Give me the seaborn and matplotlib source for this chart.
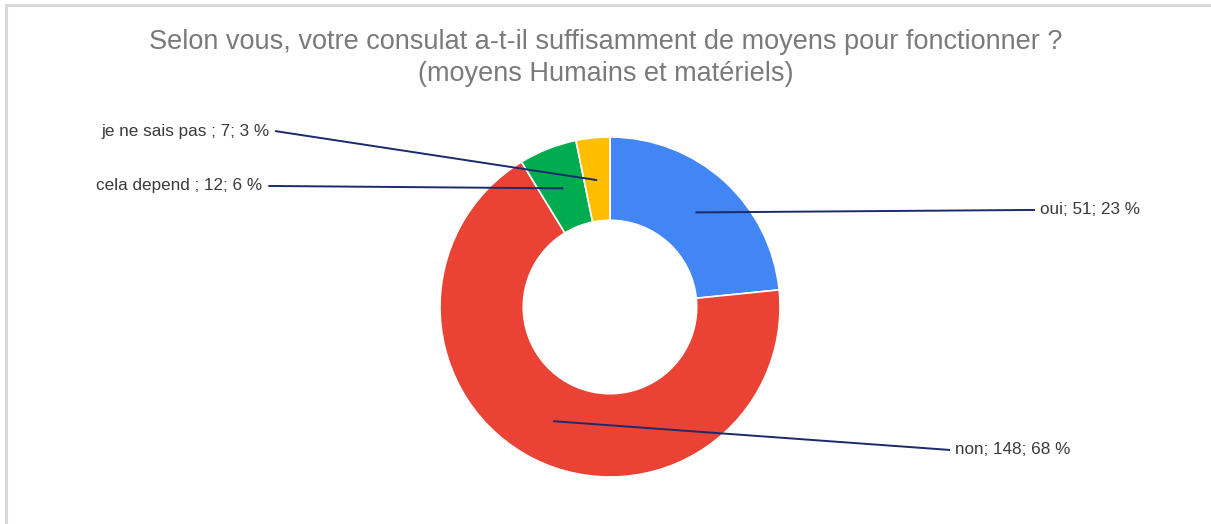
import numpy as np
import matplotlib
matplotlib.use("Agg")
import matplotlib.pyplot as plt
from matplotlib.patches import Rectangle
import seaborn as sns

# Data
categories = ["oui", "non", "cela depend ", "je ne sais pas "]
values = [51, 148, 12, 7]
colors = ["#4285F4", "#EA4335", "#00AC4F", "#FFBF00"]
title = "Selon vous, votre consulat a-t-il suffisamment de moyens pour fonctionner ?\n(moyens Humains et matériels)"

sns.set_theme(style="white")
plt.rcParams["font.family"] = ["Liberation Sans", "DejaVu Sans"]

W, H = 1211, 524
fig = plt.figure(figsize=(W / 100, H / 100), dpi=100)
fig.patch.set_facecolor("white")

cx, cy, R = 610, 307, 170
ax = fig.add_axes([(cx - R) / W, (H - cy - R) / H, 2 * R / W, 2 * R / H])
palette = sns.color_palette(colors)
wedges, _ = ax.pie(values, colors=palette, startangle=90, counterclock=False,
                   radius=1.0, wedgeprops=dict(width=0.49, edgecolor="white", linewidth=1.2))
ax.set_xlim(-1, 1)
ax.set_ylim(-1, 1)
ax.set_aspect("equal")
ax.axis("off")

total = sum(values)
# label end positions (data units, 1 = radius) and alignment
ends = [(2.5, 0.571, "left"), (2.0, -0.841, "left"), (-2.01, 0.712, "right"), (-1.97, 1.035, "right")]
for w, cat, v, (ex, ey, ha) in zip(wedges, categories, values, ends):
    mid = np.deg2rad((w.theta1 + w.theta2) / 2)
    px, py = 0.75 * np.cos(mid), 0.75 * np.sin(mid)
    pct = round(100 * v / total)
    txt = f"{cat}; {v}; {pct} %"
    ax.plot([px, ex], [py, ey], color="#1a2a6c", lw=1.4, clip_on=False, solid_capstyle="butt")
    off = 0.03 if ha == "left" else -0.035
    ax.text(ex + off, ey, txt, ha=ha, va="center", fontsize=12.3, color="#3a3a3a")

fig.text(0.5, 1 - 58 / H, title, ha="center", va="center", fontsize=19.5, color="#7a7a7a",
         linespacing=1.3)

fig.patches.append(Rectangle((6 / W, -0.05), 1.2, 1 - 5 / H + 0.05, transform=fig.transFigure,
                             fill=False, edgecolor="#d9d9d9", linewidth=2.2))

fig.savefig("out.png", dpi=100)
